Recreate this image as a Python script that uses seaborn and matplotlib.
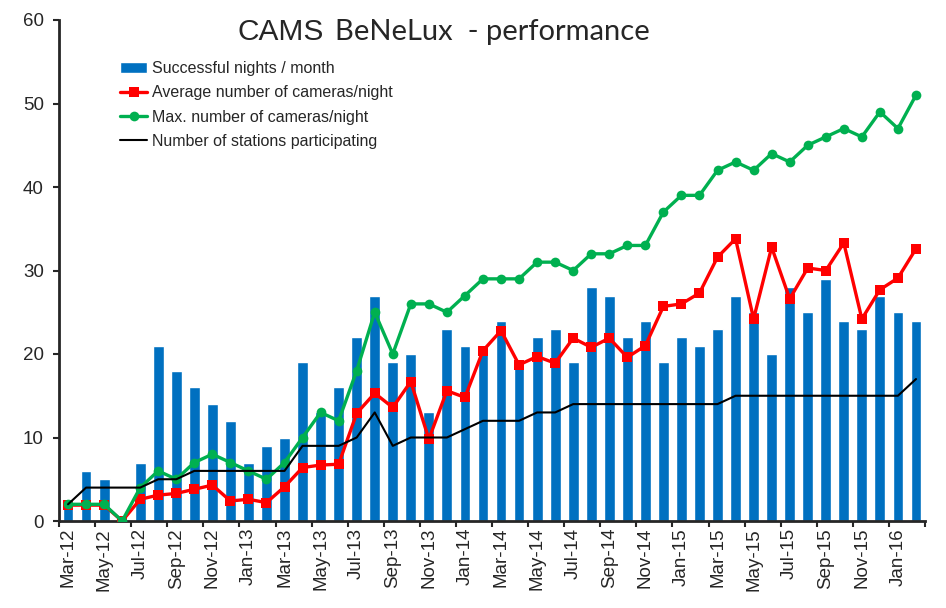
import numpy as np
import pandas as pd
import matplotlib
matplotlib.use('Agg')
import matplotlib.pyplot as plt
import seaborn as sns

# months Mar-12 .. Feb-16
months = list(pd.date_range('2012-03-01', periods=48, freq='MS').strftime('%b-%y'))

nights = [2, 6, 5, 0, 7, 21, 18, 16, 14, 12,
          7, 9, 10, 19, 13, 16, 22, 27, 19, 20, 13, 23,
          21, 21, 24, 19, 22, 23, 19, 28, 27, 22, 24, 19,
          22, 21, 23, 27, 25, 20, 28, 25, 29, 24, 23, 27,
          25, 24]
avg_cams = [1.9, 1.9, 1.9, 0, 2.6, 3.1, 3.3, 3.8, 4.3, 2.4,
            2.6, 2.2, 4.1, 6.4, 6.7, 6.8, 12.9, 15.3, 13.6, 16.7, 9.8, 15.6,
            14.8, 20.4, 22.8, 18.7, 19.7, 18.9, 21.9, 20.8, 21.9, 19.6, 21.0, 25.7,
            26.0, 27.3, 31.6, 33.8, 24.2, 32.8, 26.6, 30.3, 30.0, 33.3, 24.2, 27.7,
            29.1, 32.6]
max_cams = [2, 2, 2, 0, 4, 6, 5, 7, 8, 7,
            6, 5, 7, 10, 13, 12, 18, 25, 20, 26, 26, 25,
            27, 29, 29, 29, 31, 31, 30, 32, 32, 33, 33, 37,
            39, 39, 42, 43, 42, 44, 43, 45, 46, 47, 46, 49,
            47, 51]
stations = [2, 4, 4, 4, 4, 5, 5, 6, 6, 6,
            6, 6, 6, 9, 9, 9, 10, 13, 9, 10, 10, 10,
            11, 12, 12, 12, 13, 13, 14, 14, 14, 14, 14, 14,
            14, 14, 14, 15, 15, 15, 15, 15, 15, 15, 15, 15,
            15, 17]

df = pd.DataFrame({'idx': np.arange(len(months)), 'month': months,
                   'nights': nights, 'avg': avg_cams, 'max': max_cams,
                   'stations': stations})

sns.set_style('ticks')
plt.rcParams['font.family'] = ['Liberation Sans', 'DejaVu Sans']

fig = plt.figure(figsize=(9.46, 6.08), dpi=100)
ax = fig.add_axes([59/946, 1-521/608, (925-59)/946, (521-20)/608])

sns.barplot(data=df, x='idx', y='nights', native_scale=True, color='#0070C0',
            saturation=1, width=0.6, ax=ax, label='Successful nights / month', zorder=2)
sns.lineplot(data=df, x='idx', y='avg', color='#FF0000', marker='s', markersize=7,
             markeredgewidth=0, linewidth=2.4, ax=ax, label='Average number of cameras/night', zorder=3)
sns.lineplot(data=df, x='idx', y='max', color='#00B050', marker='o', markersize=7,
             markeredgewidth=0, linewidth=2.4, ax=ax, label='Max. number of cameras/night', zorder=4)
sns.lineplot(data=df, x='idx', y='stations', color='black', linewidth=1.5, ax=ax,
             label='Number of stations participating', zorder=5)

ax.set_xlim(-0.5, 47.5)
ax.set_ylim(0, 60)
ax.set_yticks(range(0, 61, 10))
ax.set_xticks(df['idx'][::2])
ax.set_xticklabels(months[::2], rotation=90)
ax.set_xticks(np.arange(-0.5, 48, 2), minor=True)
ax.tick_params(axis='x', which='major', length=0, pad=5, labelsize=13.5)
ax.tick_params(axis='x', which='minor', length=4, width=1.5, direction='out')
ax.tick_params(axis='y', length=4, width=1.5, labelsize=13.5, pad=7)
ax.set_xlabel('')
ax.set_ylabel('')
sns.despine(ax=ax)
for s in ['left', 'bottom']:
    ax.spines[s].set_linewidth(2)

handles, labels = ax.get_legend_handles_labels()
order = ['Successful nights / month', 'Average number of cameras/night',
         'Max. number of cameras/night', 'Number of stations participating']
hmap = dict(zip(labels, handles))
ax.legend([hmap[l] for l in order], order, loc='upper left',
          bbox_to_anchor=(120/946, 1-61/608), bbox_transform=fig.transFigure,
          frameon=False, fontsize=11.5, handlelength=1.7, handletextpad=0.3,
          labelspacing=0.58, borderpad=0, borderaxespad=0)

fig.text(237/946, 1-40/608, 'CAMS', fontsize=21.5, va='baseline')
fig.text(335/946, 1-40/608, 'BeNeLux  - performance', fontsize=21, va='baseline',
         family=['Lato', 'DejaVu Sans'])

fig.savefig('out.png', dpi=100)
